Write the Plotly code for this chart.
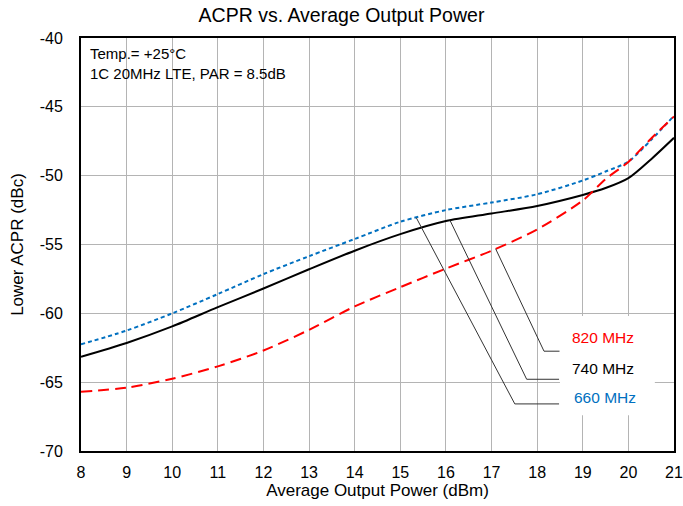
import numpy as np
import plotly.graph_objects as go

# Average output power (dBm)
power = [8, 9, 10, 11, 12, 13, 14, 15, 16, 17, 18, 19, 19.5, 20, 20.5, 21]

# Lower ACPR (dBc) per carrier frequency
acpr_660 = [-62.25, -61.25, -60.0, -58.6, -57.15, -55.85, -54.6, -53.35, -52.5,
            -51.95, -51.35, -50.35, -49.7, -48.97, -47.4, -45.65]
acpr_740 = [-63.15, -62.15, -60.95, -59.55, -58.2, -56.8, -55.45, -54.25, -53.3,
            -52.75, -52.2, -51.4, -50.9, -50.18, -48.8, -47.25]
acpr_820 = [-65.7, -65.4, -64.75, -63.85, -62.7, -61.2, -59.5, -58.1, -56.75,
            -55.45, -53.9, -51.8, -50.25, -49.0, -47.3, -45.7]

labels = ["660 MHz", "740 MHz", "820 MHz"]
colors = ["#0070C0", "#000000", "#FF0000"]
dashes = ["4px,3px", "solid", "11px,6px"]
series = [acpr_660, acpr_740, acpr_820]

y_ticks = [-70, -65, -60, -55, -50, -45, -40]
y_ticktext = ["-70", "-65", "-60", "-55", "-50", "-45", "-40"]

FONT = "Liberation Sans, Arial, sans-serif"

fig = go.Figure()
for name, ys, c, d in zip(labels, series, colors, dashes):
    fig.add_trace(go.Scatter(
        x=power, y=ys, name=name, mode="lines",
        line=dict(color=c, width=2, dash=d, shape="spline", smoothing=0.8),
        showlegend=False,
    ))

# white box behind the curve labels
fig.add_shape(type="rect", xref="x", yref="y", x0=18.5, x1=20.58, y0=-60.2, y1=-67.4,
              fillcolor="white", line=dict(width=0), layer="between")

# leader lines: curve point -> elbow -> label
leaders = [
    # (label, anchor x on curve, series, elbow x, elbow y, end x, label x, label y, colour)
    ("820 MHz", 17.09, acpr_820, 18.15, -62.75, 18.49, 19.44, -61.75, "#FF0000"),
    ("740 MHz", 16.09, acpr_740, 17.77, -64.79, 18.48, 19.44, -64.04, "#000000"),
    ("660 MHz", 15.35, acpr_660, 17.51, -66.58, 18.48, 19.48, -66.12, "#0070C0"),
]
for lab, ax, ys, ex, ey, endx, lx, ly, c in leaders:
    ay = float(np.interp(ax, power, ys))
    fig.add_trace(go.Scatter(
        x=[ax, ex, endx], y=[ay, ey, ey], mode="lines",
        line=dict(color="#333333", width=1), showlegend=False, hoverinfo="skip",
    ))
    fig.add_annotation(x=lx, y=ly, xref="x", yref="y", text=lab, showarrow=False,
                       font=dict(family=FONT, size=15.5, color=c))

fig.add_annotation(x=0.011, y=0.988, xref="paper", yref="paper", xanchor="left", yanchor="top",
                   align="left", showarrow=False,
                   text="Temp.= +25°C<br>1C 20MHz LTE, PAR = 8.5dB",
                   font=dict(family=FONT, size=15, color="#000000"))

fig.update_layout(
    width=683, height=506,
    margin=dict(l=81, r=9, t=38, b=55, autoexpand=False),
    paper_bgcolor="white", plot_bgcolor="white",
    title=dict(text="ACPR vs. Average Output Power", x=0.5, xanchor="center",
               y=1 - 15 / 506, yanchor="middle",
               font=dict(family=FONT, size=19.5, color="#000000")),
    font=dict(family=FONT, size=16, color="#000000"),
)
fig.update_xaxes(range=[8, 21], dtick=1, tick0=8, showgrid=True, gridcolor="#B4B4B4",
                 gridwidth=1, showline=True, linecolor="#000000", linewidth=2, mirror=True,
                 ticks="", zeroline=False, ticklabelstandoff=6, automargin=False,
                 ticklabeloverflow="allow",
                 title=dict(text="Average Output Power (dBm)", standoff=4,
                            font=dict(family=FONT, size=17)),
                 tickfont=dict(family=FONT, size=16))
fig.update_yaxes(range=[-70, -40], tickvals=y_ticks, ticktext=y_ticktext, showgrid=True,
                 gridcolor="#B4B4B4", gridwidth=1, showline=True, linecolor="#000000",
                 linewidth=2, mirror=True, ticks="", zeroline=False, ticklabelstandoff=13,
                 automargin=False, ticklabeloverflow="allow",
                 title=dict(text="Lower ACPR (dBc)", standoff=12,
                            font=dict(family=FONT, size=17)),
                 tickfont=dict(family=FONT, size=16))

fig.write_html("out.html")
